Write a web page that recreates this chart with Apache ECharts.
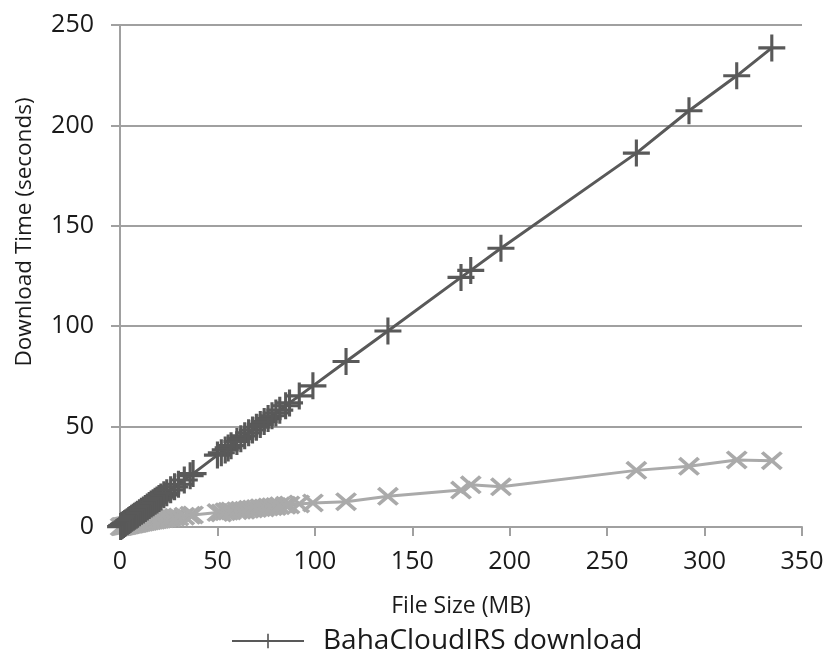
<!DOCTYPE html>
<html>
<head>
<meta charset="utf-8">
<style>
body { margin: 0; background: #fff; }
#container { width: 828px; height: 660px; }
</style>
<title>Download time</title>
</head>
<body>
<div id="container"></div>
<script src="https://cdn.jsdelivr.net/npm/echarts@6/dist/echarts.min.js"></script>
<script type="text/javascript">

	// file sizes (MB), shared by both series
	var fileSizes = [0.3, 0.8, 1.2, 1.8, 2.4, 3, 3.7, 4.5, 5.2, 6, 6.8, 7.5, 8.3, 9, 10, 11, 12, 13, 14, 15,
		16, 17, 18, 19, 20, 21, 22.5, 24, 26, 28, 30, 33, 36, 37.5, 50, 52, 54, 55.5, 57, 60,
		62, 64, 66, 68, 70, 72, 74, 76, 78, 80, 82, 85, 87, 92, 99, 116, 137.5, 175, 180, 195.5,
		265, 292, 316.5, 334.5];

	// download time (seconds), dark series
	var bahaTimes = [0.2, 0.6, 0.9, 1.3, 1.7, 2.1, 2.6, 3.2, 3.7, 4.3, 4.8, 5.3, 5.9, 6.4, 7.1, 7.8, 8.5, 9.2, 10, 10.7,
		11.4, 12.1, 12.8, 13.5, 14.2, 14.9, 16, 17, 18.5, 20, 21.3, 23.4, 25.5, 26.6, 35.8, 37, 38.4, 39.4, 40.5, 42.6,
		44, 45.4, 46.9, 48.3, 49.7, 51.1, 52.5, 54, 55.4, 56.8, 58.2, 60.4, 61.8, 65.3, 70.3, 82.4, 97.6, 124.3, 127.8, 138.8,
		186.2, 207.3, 224.7, 238.6];

	// download time (seconds), light series
	var otherTimes = [0.1, 0.2, 0.3, 0.4, 0.5, 0.6, 0.8, 0.9, 1.1, 1.2, 1.4, 1.5, 1.7, 1.8, 2.0, 2.3, 2.4, 2.6, 2.8, 3.0,
		3.1, 3.3, 3.4, 3.6, 3.7, 3.9, 4.1, 4.3, 4.5, 4.8, 5.0, 5.4, 5.8, 6.0, 7.2, 7.0, 7.6, 7.8, 8.0, 8.1,
		8.4, 8.3, 8.8, 9.0, 9.2, 9.6, 9.5, 9.9, 10.1, 10.2, 10.6, 10.8, 11.0, 11.5, 12.0, 12.6, 15.3, 18.4, 21, 20,
		28.2, 30.2, 33.4, 33];

	var xTicks = { min: 0, max: 350, interval: 50 };
	var yTicks = { min: 0, max: 250, interval: 50 };

	var legendNames = ['BahaCloudIRS download'];

	var plusSymbol = 'path://M11.5,0 H14.5 V26 H11.5 Z M0,11.5 H26 V14.5 H0 Z';
	var crossSymbol = 'path://M0,2.5 L2.5,0 L10,7.5 L17.5,0 L20,2.5 L12.5,10 L20,17.5 L17.5,20 L10,12.5 L2.5,20 L0,17.5 L7.5,10 Z';

	function pairs(xs, ys) {
		var out = [];
		for (var i = 0; i < xs.length; i++) {
			out.push([xs[i], ys[i]]);
		}
		return out;
	}

	var myChart = echarts.init(document.getElementById('container'));
	var option = {
		animation: false,
		textStyle: { fontFamily: 'Open Sans' },
		grid: { left: 120, right: 26, top: 25, bottom: 133 },
		legend: {
			data: legendNames,
			left: 226,
			top: 622,
			itemWidth: 72,
			itemHeight: 18,
			textStyle: { fontSize: 28, color: '#1a1a1a', padding: [0, 0, 0, 14] }
		},
		graphic: [{
			type: 'text',
			x: 25,
			y: 232,
			rotation: Math.PI / 2,
			style: {
				text: 'Download Time (seconds)',
				fontFamily: 'Open Sans',
				fontSize: 22.5,
				fill: '#1a1a1a',
				align: 'center',
				verticalAlign: 'middle'
			}
		}],
		xAxis: {
			type: 'value',
			min: xTicks.min,
			max: xTicks.max,
			interval: xTicks.interval,
			name: 'File Size (MB)',
			nameLocation: 'middle',
			nameGap: 68,
			nameTextStyle: { fontSize: 23, color: '#1a1a1a' },
			axisLine: { show: true, lineStyle: { color: '#a0a0a0', width: 2 } },
			axisTick: { show: true, length: 9, lineStyle: { color: '#a0a0a0', width: 2 } },
			axisLabel: { fontSize: 25, color: '#1a1a1a', margin: 22 },
			splitLine: { show: false }
		},
		yAxis: {
			type: 'value',
			min: yTicks.min,
			max: yTicks.max,
			interval: yTicks.interval,
			axisLine: { show: true, lineStyle: { color: '#a0a0a0', width: 2 } },
			axisTick: { show: true, length: 9, lineStyle: { color: '#a0a0a0', width: 2 } },
			axisLabel: { fontSize: 25, color: '#1a1a1a', margin: 26 },
			splitLine: { show: true, lineStyle: { color: '#a0a0a0', width: 2 } }
		},
		series: [{
			name: 'Other download',
			type: 'line',
			data: pairs(fileSizes, otherTimes),
			symbol: crossSymbol,
			symbolSize: [22, 19],
			showAllSymbol: true,
			lineStyle: { color: '#aaaaaa', width: 3 },
			itemStyle: { color: '#aaaaaa' }
		}, {
			name: 'BahaCloudIRS download',
			type: 'line',
			data: pairs(fileSizes, bahaTimes),
			symbol: plusSymbol,
			symbolSize: 27,
			showAllSymbol: true,
			lineStyle: { color: '#595959', width: 3 },
			itemStyle: { color: '#595959' }
		}]
	};
	myChart.setOption(option, true);
</script>
</body>
</html>
